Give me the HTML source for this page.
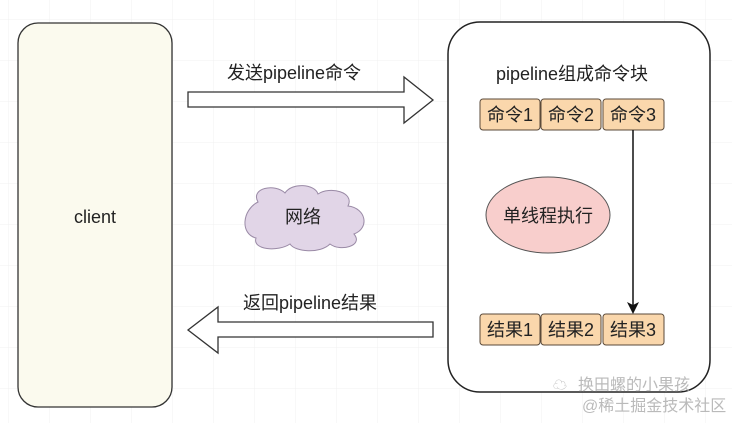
<!DOCTYPE html>
<html><head><meta charset="utf-8"><style>
body{margin:0;width:732px;height:423px;overflow:hidden;background:#fff;}
svg text{font-family:"Liberation Sans","Noto Sans CJK SC",sans-serif;}
</style></head><body>
<svg width="732" height="423" viewBox="0 0 732 423" xmlns="http://www.w3.org/2000/svg">
<defs><pattern id="g" width="41" height="41" patternUnits="userSpaceOnUse" x="9" y="20"><path d="M41 0V41M0 41H41" fill="none" stroke="#f0f0f0" stroke-width="1"/></pattern></defs>
<rect width="732" height="423" fill="url(#g)"/>
<rect x="18" y="23" width="154" height="384" rx="20" fill="#fbfaee" stroke="#333" stroke-width="1.3"/>
<text x="95" y="223" font-size="18" text-anchor="middle" fill="#222">client</text>
<path d="M188 92H404V77L433 100L404 123V107H188Z" fill="#fff" stroke="#333" stroke-width="1.3"/>
<text x="294" y="79" font-size="18" text-anchor="middle" fill="#222">发送pipeline命令</text>
<path d="M433 322H218V307L188 330L218 353V337H433Z" fill="#fff" stroke="#333" stroke-width="1.3"/>
<text x="310" y="309" font-size="18" text-anchor="middle" fill="#222">返回pipeline结果</text>
<path d="M258 202C250 188 275 183 285 193C292 182 315 184 318 194C330 186 355 192 348 206C366 208 370 228 354 234C364 246 340 252 330 244C320 254 295 252 290 244C278 252 252 250 256 238C240 234 242 210 258 202Z" fill="#e1d5e7" stroke="#9a8aa6" stroke-width="1"/>
<text x="303" y="223" font-size="18" text-anchor="middle" fill="#222">网络</text>
<rect x="448" y="22" width="262" height="370" rx="32" fill="#fff" stroke="#222" stroke-width="1.5"/>
<text x="572" y="80" font-size="18" text-anchor="middle" fill="#222">pipeline组成命令块</text>
<g fill="#fad7ac" stroke="#5a4a3a" stroke-width="1">
<rect x="480" y="99" width="60" height="31" rx="3"/><rect x="541" y="99" width="60" height="31" rx="3"/><rect x="603" y="99" width="61" height="31" rx="3"/>
<rect x="480" y="314" width="60" height="31" rx="3"/><rect x="541" y="314" width="60" height="31" rx="3"/><rect x="603" y="314" width="61" height="31" rx="3"/>
</g>
<g font-size="18" text-anchor="middle" fill="#222">
<text x="510" y="121">命令1</text><text x="571" y="121">命令2</text><text x="633" y="121">命令3</text>
<text x="510" y="336">结果1</text><text x="571" y="336">结果2</text><text x="633" y="336">结果3</text>
</g>
<ellipse cx="548" cy="215" rx="62" ry="38" fill="#f8cecc" stroke="#555" stroke-width="1"/>
<text x="548" y="222" font-size="18" text-anchor="middle" fill="#222">单线程执行</text>
<line x1="633" y1="130" x2="633" y2="306" stroke="#111" stroke-width="1.5"/>
<path d="M627 302L633 314L639 302L633 305Z" fill="#111"/>
<g font-size="16" fill="#aaa" opacity="0.8">
<text x="578" y="390">换田螺的小果孩</text>
<text x="582" y="411">@稀土掘金技术社区</text>
</g>
<text x="553" y="390" font-size="14" fill="#bbb">☁</text>
</svg>
</body></html>
